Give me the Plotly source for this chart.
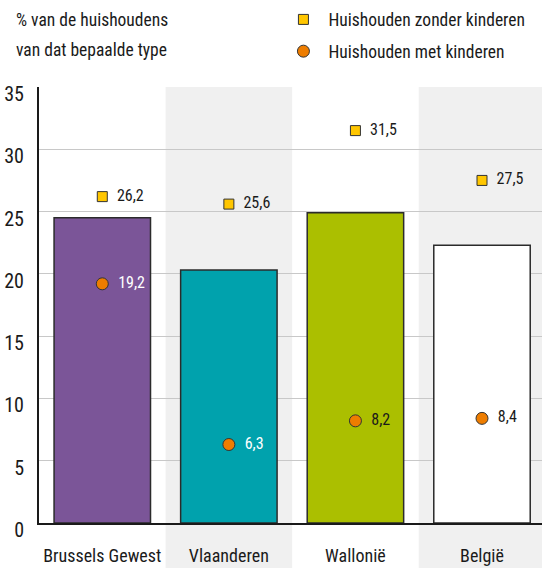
import plotly.graph_objects as go

regions = ["Brussels Gewest", "Vlaanderen", "Wallonië", "België"]
totaal = [24.5, 20.3, 24.9, 22.3]
zonder_kinderen = [26.2, 25.6, 31.5, 27.5]
met_kinderen = [19.2, 6.3, 8.2, 8.4]

bar_colors = ["#7b5598", "#00a2ad", "#abbf00", "#ffffff"]
met_label_colors = ["#ffffff", "#ffffff", "#1a1a1a", "#1a1a1a"]

FONT = "Roboto Condensed, Liberation Sans Narrow, DejaVu Sans Condensed, sans-serif"
INK = "#1a1a1a"

fig = go.Figure()

fig.add_trace(go.Bar(
    x=regions, y=totaal, width=0.762,
    marker=dict(color=bar_colors, line=dict(color="#2b2b2b", width=1.5)),
    showlegend=False, hoverinfo="skip",
))

fig.add_trace(go.Scatter(
    x=regions, y=zonder_kinderen, mode="markers+text",
    name="Huishouden zonder kinderen", legendgroup="a",
    marker=dict(symbol="square", size=10, color="#ffc600",
                line=dict(color="#333333", width=1)),
    text=[f"\u00a0\u00a0{v:.1f}".replace(".", ",") for v in zonder_kinderen],
    textposition="middle right",
    textfont=dict(family=FONT, size=16, color=INK),
))

fig.add_trace(go.Scatter(
    x=regions, y=met_kinderen, mode="markers+text",
    name="Huishouden met kinderen", legendgroup="b",
    marker=dict(symbol="circle", size=12, color="#ee7d00",
                line=dict(color="#333333", width=1)),
    text=[f"\u00a0\u00a0{v:.1f}".replace(".", ",") for v in met_kinderen],
    textposition="middle right",
    textfont=dict(family=FONT, size=16, color=met_label_colors),
))

# alternating column bands
shapes = []
for x0 in (0.5, 2.5):
    shapes.append(dict(type="rect", xref="x", yref="paper", x0=x0, x1=x0 + 1,
                       y0=-0.2, y1=1, fillcolor="#f0f0f0",
                       line=dict(width=0), layer="below"))

annotations = [
    dict(text="% van de huishoudens", xref="paper", yref="paper",
         x=-0.0503, y=1.1528, xanchor="left", yanchor="middle", showarrow=False,
         font=dict(family=FONT, size=17.5, color=INK)),
    dict(text="van dat bepaalde type", xref="paper", yref="paper",
         x=-0.0503, y=1.084, xanchor="left", yanchor="middle", showarrow=False,
         font=dict(family=FONT, size=17.5, color=INK)),
]

fig.update_layout(
    width=542, height=568,
    margin=dict(l=39, r=0, t=87, b=45),
    paper_bgcolor="#ffffff", plot_bgcolor="#ffffff",
    font=dict(family=FONT, size=17, color=INK),
    separators=",.",
    shapes=shapes, annotations=annotations,
    legend=dict(x=0.476, y=1.196, xanchor="left", yanchor="top",
                bgcolor="rgba(0,0,0,0)", tracegroupgap=6, itemwidth=40,
                font=dict(family=FONT, size=17.5, color=INK)),
    bargap=0.2,
)

fig.update_xaxes(
    range=[-0.5, 3.474], showgrid=False, showline=True, linecolor="#1a1a1a",
    linewidth=2, ticks="outside", ticklen=15, tickcolor="rgba(0,0,0,0)",
    tickfont=dict(family=FONT, size=18, color=INK),
)
fig.update_yaxes(
    range=[0, 35], dtick=5, showgrid=True, gridcolor="#c8c8c8", gridwidth=1,
    showline=True, linecolor="#1a1a1a", linewidth=2, zeroline=False,
    ticks="", ticklabelstandoff=9, ticklabelshift=7,
    tickfont=dict(family=FONT, size=20, color=INK),
)

fig.write_html("out.html")
